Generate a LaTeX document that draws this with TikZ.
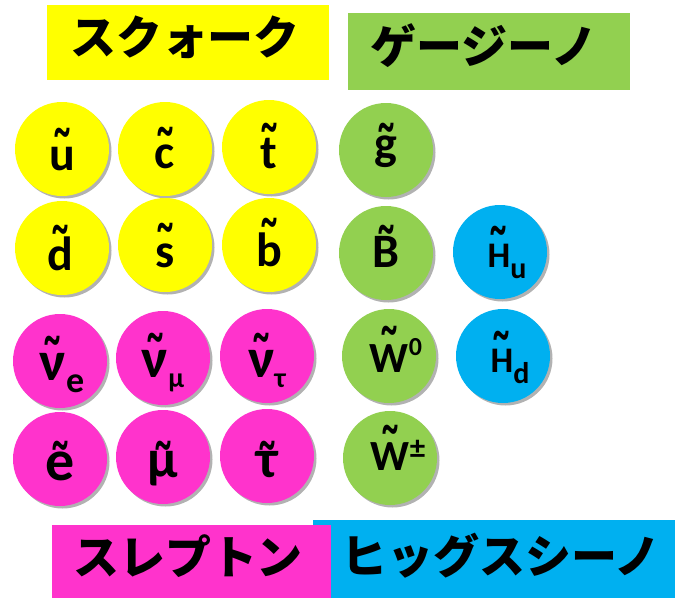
\documentclass[tikz,border=0pt]{standalone}
\usepackage{fontspec}
\usepackage{graphicx}
\setmainfont{Carlito}
\newfontfamily\jp{Noto Sans CJK JP}
\newfontfamily\tlfont{DejaVu Sans}
\usetikzlibrary{shadows}
\definecolor{qy}{HTML}{FFFF00}
\definecolor{gg}{HTML}{92D050}
\definecolor{hc}{HTML}{00B0F0}
\definecolor{lm}{HTML}{FF33CC}
\newcommand\fs[1]{\fontsize{#1}{#1}\selectfont}
% tilde accent: #1 = height (pt) of the tilde's top above the baseline, #2 = letter
\newcommand\tld[2]{{\setbox0\hbox{#2}\setbox2\hbox{\scalebox{1}[1.5]{\tlfont\bfseries\fs{44}\char"02DC}}%
  \hbox to\wd0{\hss\raisebox{\dimexpr#1pt-\ht2\relax}[0pt][0pt]{\copy2}\hss}\kern-\wd0\box0}}
\tikzset{
  ball/.style={circle, minimum size=94pt, inner sep=0pt, draw=none,
    drop shadow={shadow xshift=2.5pt, shadow yshift=-2.5pt, fill=black, opacity=0.3}},
  lbl/.style={anchor=base, inner sep=0pt, font=\bfseries},
  hdr/.style={inner sep=0pt, font=\jp\bfseries\fs{46}},
  band/.style={anchor=north west, inner sep=0pt, draw=none},
}
\begin{document}
\begin{tikzpicture}[x=1pt,y=-1pt]
\useasboundingbox (0,0) rectangle (675,598);
% header bands
\node[band, fill=qy, minimum width=282pt, minimum height=75pt] (qbox) at (47,5) {};
\node[band, fill=gg, minimum width=282pt, minimum height=77pt] (gbox) at (348,13) {};
\node[band, fill=hc, minimum width=362pt, minimum height=78pt] (hbox) at (313,520) {};
\node[band, fill=lm, minimum width=279pt, minimum height=73pt] (lbox) at (52,525) {};
\node[hdr] (qt) at (185,37) {スクォーク};
\node[hdr] (gt) at (484,46) {ゲージーノ};
\node[hdr] (lt) at (188,556) {スレプトン};
\node[hdr] (ht) at (501,556) {ヒッグスシーノ};
% balls
\node[ball, fill=qy] (u) at (62,149) {};
\node[ball, fill=qy] (c) at (165,149) {};
\node[ball, fill=qy] (t) at (269,147) {};
\node[ball, fill=gg] (g) at (386,150) {};
\node[ball, fill=qy] (d) at (62,248) {};
\node[ball, fill=qy] (s) at (165,245) {};
\node[ball, fill=qy] (b) at (269,245) {};
\node[ball, fill=gg] (B) at (386,253) {};
\node[ball, fill=hc] (Hu) at (500,252) {};
\node[ball, fill=lm] (ne) at (60,361) {};
\node[ball, fill=lm] (nm) at (163,358) {};
\node[ball, fill=lm] (nt) at (267,356) {};
\node[ball, fill=gg] (W0) at (389,356) {};
\node[ball, fill=hc] (Hd) at (503,356) {};
\node[ball, fill=lm] (e) at (60,459) {};
\node[ball, fill=lm] (m) at (163,457) {};
\node[ball, fill=lm] (ta) at (267,456) {};
\node[ball, fill=gg] (Wpm) at (390,458) {};
% labels
\node[lbl] (u-l) at ([yshift=-21pt]u.center) {\fs{48}\tld{42}{u}};
\node[lbl] (c-l) at ([yshift=-19pt]c.center) {\fs{48}\tld{41}{c}};
\node[lbl] (t-l) at ([yshift=-21pt]t.center) {\fs{48}\tld{45}{t}};
\node[lbl] (g-l) at ([yshift=-9pt]g.center) {\fs{48}\tld{36}{g}};
\node[lbl] (d-l) at ([xshift=-2pt,yshift=-22pt]d.center) {\fs{48}\tld{45}{d}};
\node[lbl] (s-l) at ([yshift=-22pt]s.center) {\fs{48}\tld{44}{s}};
\node[lbl] (b-l) at ([yshift=-21pt]b.center) {\fs{48}\tld{48}{b}};
\node[lbl] (B-l) at ([yshift=-14pt]B.center) {\fs{48}\tld{42}{B}};
\node[lbl] (Hu-l) at ([xshift=7pt,yshift=-15pt]Hu.center) {\fs{36}\tld{41}{H}\fs{30}\raisebox{-11pt}{u}};
\node[lbl] (Hd-l) at ([xshift=7pt,yshift=-16pt]Hd.center) {\fs{36}\tld{41}{H}\fs{30}\raisebox{-11pt}{d}};
\node[lbl] (W0-l) at ([xshift=7pt,yshift=-16pt]W0.center) {\fs{43}\tld{46}{W}\fs{26}\raisebox{17pt}{0}};
\node[lbl] (Wpm-l) at ([xshift=8pt,yshift=-12pt]Wpm.center) {\fs{43}\tld{45}{W}\fs{31}\raisebox{12pt}{±}};
\node[lbl] (ne-l) at ([xshift=2pt,yshift=-19pt]ne.center) {\fs{56}\tld{44}{ν}\fs{36}\raisebox{-12pt}{e}};
\node[lbl] (nm-l) at ([yshift=-19pt]nm.center) {\fs{56}\tld{44}{ν}\fs{28}\raisebox{-10pt}{μ}};
\node[lbl] (nt-l) at ([yshift=-21pt]nt.center) {\fs{56}\tld{44}{ν}\fs{28}\raisebox{-10pt}{τ}};
\node[lbl] (e-l) at ([yshift=-21pt]e.center) {\fs{58}\tld{39}{e}};
\node[lbl] (m-l) at ([yshift=-20pt]m.center) {\fs{54}\tld{36}{μ}};
\node[lbl] (ta-l) at ([yshift=-21pt]ta.center) {\fs{54}\tld{36}{τ}};
\end{tikzpicture}
\end{document}
